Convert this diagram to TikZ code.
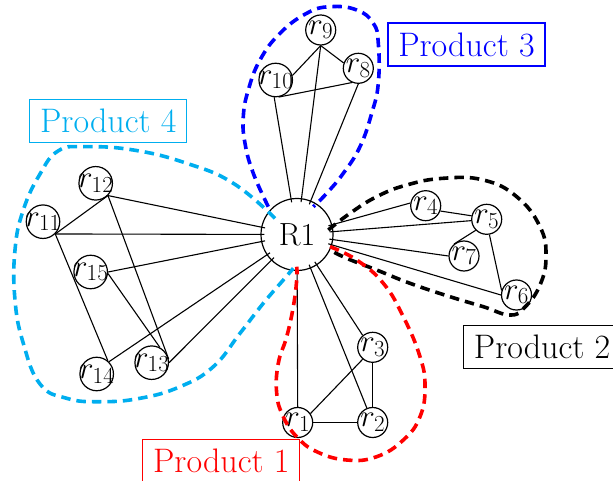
\RequirePackage{fix-cm}
\documentclass[tikz,border=0pt]{standalone}
\DeclareMathSizes{31}{31}{23}{17}
\definecolor{pcyan}{RGB}{0,174,239}
\begin{document}
\begin{tikzpicture}[x=1pt,y=-1pt,
  rn/.style={circle, draw, line width=1.2pt, minimum size=30pt, inner sep=0pt, font=\fontsize{31}{36}\selectfont},
  rnn/.style={rn, minimum size=33.5pt},
  hub/.style={circle, draw, line width=1.2pt, minimum size=72pt, inner sep=0pt, font=\fontsize{32}{38}\selectfont},
  edge/.style={line width=1.1pt},
  tohub/.style={edge, shorten >=-4pt},
  prod/.style={draw, line width=1.1pt, inner xsep=10.3pt, inner ysep=9pt, minimum height=43pt, font=\fontsize{34}{40}\selectfont},
  grp/.style={line width=3.6pt, dash pattern=on 9.5pt off 6pt}
]
\useasboundingbox (0,0) rectangle (613,481);

% hub
\node[hub] (R1) at (297,234.5) {R1};

% product 3
\node[rn]  (r9)  at (320.7,30)   {\makebox[0pt]{$r_{9}$}};
\node[rnn] (r10) at (275.7,80)   {\makebox[0pt]{$r_{10}$}};
\node[rn]  (r8)  at (358.3,68.3) {\makebox[0pt]{$r_{8}$}};
% product 2
\node[rn] (r4) at (425.7,205.7) {\makebox[0pt]{$r_{4}$}};
\node[rn] (r5) at (486.7,219.3) {\makebox[0pt]{$r_{5}$}};
\node[rn] (r7) at (464,256)     {\makebox[0pt]{$r_{7}$}};
\node[rn] (r6) at (516.5,295)   {\makebox[0pt]{$r_{6}$}};
% product 1
\node[rn] (r3) at (372.7,347.3) {\makebox[0pt]{$r_{3}$}};
\node[rn] (r2) at (372.7,422.5) {\makebox[0pt]{$r_{2}$}};
\node[rn] (r1) at (297.7,422.5) {\makebox[0pt]{$r_{1}$}};
% product 4
\node[rnn] (r12) at (95.7,183.3) {\makebox[0pt]{$r_{12}$}};
\node[rnn] (r11) at (43,221.7)   {\makebox[0pt]{$r_{11}$}};
\node[rnn] (r15) at (90.7,272)   {\makebox[0pt]{$r_{15}$}};
\node[rnn] (r14) at (96.7,374)   {\makebox[0pt]{$r_{14}$}};
\node[rnn] (r13) at (151.7,362.7){\makebox[0pt]{$r_{13}$}};

% edges product 3
\draw[edge] (r9.south) -- (r10.15);
\draw[edge] (r9.south) -- (r8.160);
\draw[edge] (r10.-80) -- (r8.246);
\draw[tohub] (r10.-95) -- (R1);
\draw[tohub] (r9.south) -- (R1);
\draw[tohub] (r8.south) -- (R1);
% edges product 2
\draw[tohub] (r4.170) -- (R1);
\draw[edge] (r4.-20) -- (r5.167);
\draw[tohub] (r5.185) -- (R1);
\draw[edge] (r5.225) -- (r7.130);
\draw[edge] (r5.-80) -- (r6.163);
\draw[tohub] (r7.180) -- (R1);
\draw[tohub] (r6.180) -- (R1);
% edges product 1
\draw[tohub] (r1.north) -- (R1);
\draw[edge] (r1.35) -- (r3.230);
\draw[edge] (r1.east) -- (r2.west);
\draw[edge] (r2.north) -- (r3.south);
\draw[tohub] (r2.112) -- (R1);
\draw[tohub] (r3.130) -- (R1);
% edges product 4
\draw[tohub] (r12.-45) -- (R1);
\draw[tohub] (r11.-45) -- (R1);
\draw[edge] (r11.-45) -- (r12.-45);
\draw[edge] (r11.-45) -- (r14.50);
\draw[tohub] (r14.45) -- (R1);
\draw[tohub] (r15.east) -- (R1);
\draw[edge] (r15.-5) -- (r13.62);
\draw[edge] (r12.-45) -- (r13.12);
\draw[tohub] (r13.east) -- (R1);

% group outlines
\draw[grp, blue] plot[smooth, tension=0.75] coordinates {(268.3,206.7) (253.3,173.3) (245,143.3) (243.3,116.7) (248.3,90) (260,60) (280,33.3) (306.7,13.3) (330,6.7) (356.7,10) (373.3,23.3) (378.3,43.3) (378.3,83.3) (371.7,113.3) (360,146.7) (343.3,173.3) (326.7,193.3) (313.3,206.7)};
\draw[grp, pcyan] plot[smooth, tension=0.75] coordinates {(275,218.3) (233.3,183.3) (186.7,163.3) (133.3,150) (83.3,146.7) (58,151) (40,174) (23.3,210) (15,250) (15,300) (23.3,343.3) (40,384) (66.7,398.3) (100,401.7) (140,398.3) (180,386.7) (213.3,366.7) (240,333.3) (263.3,303.3) (283.3,280) (293.3,268.3)};
\draw[grp, black] plot[smooth, tension=0.75] coordinates {(328.3,230) (350,213.3) (376.7,196.7) (406.7,185) (443.3,178.3) (483.3,180) (516.7,196.7) (540,226.7) (546,256.7) (540,285) (525,307) (510,315) (483.3,306.7) (450,296.7) (410,283.3) (376.7,270) (346.7,258.3) (330,250)};
\draw[grp, red] plot[smooth, tension=0.75] coordinates {(330,246.7) (356.7,260) (383.3,283.3) (403.3,316.7) (420,356.7) (425,386.7) (420,416.7) (403.3,440) (376.7,456.7) (346.7,460) (316.7,451.7) (296.7,436.7) (283.3,416.7) (276.7,393.3) (278.3,363.3) (286.7,336.7) (293.3,306.7) (296.7,280) (296.7,266.7)};

% labels
\node[prod, draw=blue, text=blue] (P3) at (466.5,44.5) {Product 3};
\node[prod, draw=pcyan, text=pcyan] (P4) at (108.3,121.3) {Product 4};
\node[prod, draw=black, text=black] (P2) at (542.1,347) {Product 2};
\node[prod, draw=red, text=red] (P1) at (221.3,460.8) {Product 1};
\end{tikzpicture}
\end{document}
